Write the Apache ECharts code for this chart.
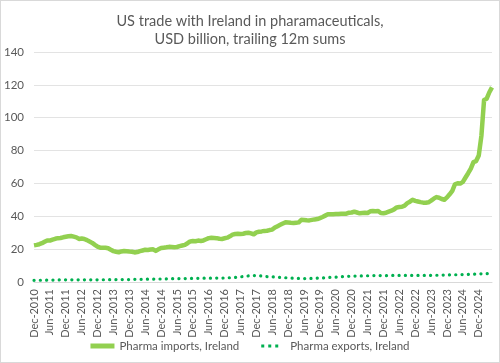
<!DOCTYPE html>
<html><head><meta charset="utf-8">
<script src="https://cdn.jsdelivr.net/npm/echarts@6/dist/echarts.min.js"></script>
<style>html,body{margin:0;padding:0;background:#fff}#c{width:498px;height:361px;border:1px solid #d9d9d9}</style>
</head><body><div id="c"></div>
<script>
var titleLines = ["US trade with Ireland in pharamaceuticals,", "USD billion, trailing 12m sums"];
var seriesNames = ["Pharma imports, Ireland", "Pharma exports, Ireland"];
var monthNames = ["Jan","Feb","Mar","Apr","May","Jun","Jul","Aug","Sep","Oct","Nov","Dec"];
var startYear = 2010, startMonth = 11; // Dec-2010
var imports = [
22.3,22.6,23.0,23.6,24.5,25.3,25.2,25.8,26.3,26.7,26.8,27.2,27.5,27.8,28.0,27.6,27.2,26.2,26.5,26.2,
25.5,24.6,23.8,22.6,21.5,20.9,20.8,20.8,20.5,19.6,18.8,18.4,18.1,18.6,18.9,18.7,18.5,18.4,18.0,18.2,
18.8,19.2,19.6,19.5,19.8,19.9,18.9,19.9,20.7,20.9,21.1,21.4,21.3,21.2,21.3,21.8,22.2,22.6,23.6,24.7,
24.9,24.8,25.2,25.0,25.3,26.0,26.7,26.9,26.8,26.7,26.3,26.2,26.6,27.0,27.8,28.8,29.2,29.3,29.2,29.4,
29.8,30.0,29.6,29.0,30.2,30.6,30.8,31.1,31.2,31.6,31.9,33.2,34.0,34.8,35.6,36.3,36.2,36.0,35.9,36.1,
36.3,37.9,37.8,37.6,37.5,37.8,38.1,38.3,38.9,39.6,40.4,41.2,41.3,41.3,41.4,41.4,41.5,41.6,41.6,42.2,
42.3,42.8,42.3,41.8,42.0,42.2,42.0,43.0,43.2,43.1,43.2,42.0,41.9,42.2,42.8,43.4,44.2,45.4,45.7,45.8,
46.5,48.0,48.9,50.1,49.4,49.0,48.6,48.3,48.2,48.5,49.5,50.7,51.7,51.3,50.5,50.1,51.5,53.4,55.5,59.5,
60.1,59.9,60.9,63.6,66.2,69.0,73.0,73.6,77.0,89.0,110.8,111.6,115.5,118.5
];
var exports = [
1.0,1.0,1.05,1.1,1.1,1.15,1.2,1.2,1.2,1.25,1.3,1.3,1.3,1.3,1.35,1.35,1.3,1.3,1.3,1.3,
1.3,1.3,1.3,1.3,1.3,1.35,1.35,1.4,1.4,1.4,1.4,1.45,1.45,1.5,1.5,1.5,1.5,1.55,1.6,1.6,
1.6,1.6,1.65,1.7,1.7,1.75,1.8,1.8,1.85,1.9,1.9,1.95,2.0,2.0,2.0,2.05,2.1,2.1,2.15,2.2,
2.2,2.2,2.25,2.3,2.3,2.3,2.3,2.3,2.35,2.4,2.4,2.4,2.45,2.5,2.6,2.7,2.8,2.9,3.1,3.3,
3.5,3.7,3.8,3.9,3.9,3.8,3.7,3.5,3.3,3.2,3.1,3.0,2.9,2.8,2.7,2.6,2.5,2.4,2.3,2.2,
2.2,2.1,2.1,2.1,2.2,2.2,2.3,2.4,2.5,2.5,2.6,2.7,2.8,2.9,3.0,3.1,3.2,3.3,3.4,3.5,
3.5,3.6,3.6,3.7,3.7,3.8,3.8,3.8,3.9,3.9,3.9,3.9,3.9,3.9,4.0,4.0,4.0,4.0,4.0,4.0,
4.0,4.0,4.0,4.0,4.0,4.0,4.0,4.0,4.0,4.0,4.1,4.1,4.1,4.1,4.2,4.2,4.2,4.3,4.3,4.4,
4.4,4.5,4.5,4.6,4.6,4.7,4.8,4.9,5.0,5.0,5.1,5.1,5.2,5.3
];
var categories = [];
for (var i = 0; i < imports.length; i++) {
  var m = (startMonth + i) % 12, y = startYear + Math.floor((startMonth + i) / 12);
  categories.push(monthNames[m] + "-" + y);
}
var yMin = 0, yMax = 140, yStep = 20;
var txt = "#595959", font = "Lato";
var chart = echarts.init(document.getElementById("c"), null, {renderer: "canvas"});
chart.setOption({
  animation: false,
  textStyle: {fontFamily: font},
  title: {
    text: titleLines.join("\n"), left: "center", top: 6,
    textStyle: {fontFamily: font, fontSize: 14.5, fontWeight: "normal", color: txt, lineHeight: 18}
  },
  grid: {left: 33, right: 7, top: 51, bottom: 80},
  legend: {
    bottom: 5, itemGap: 22, itemWidth: 24, itemHeight: 5, symbolKeepAspect: false,
    textStyle: {fontFamily: font, fontSize: 11.5, color: txt},
    data: [
      {name: seriesNames[0], icon: "path://M0,0h24v5h-24z"},
      {name: seriesNames[1], icon: "path://M0,1h3v3h-3z M7,1h3v3h-3z M14,1h3v3h-3z M24,0 L24,5"}
    ]
  },
  xAxis: {
    type: "category", data: categories, boundaryGap: false,
    axisLine: {lineStyle: {color: "#d9d9d9", width: 1}},
    axisTick: {show: false},
    axisLabel: {interval: 5, rotate: 90, margin: 7, fontFamily: font, fontSize: 11, color: txt}
  },
  yAxis: {
    type: "value", min: yMin, max: yMax, interval: yStep,
    axisLine: {show: false}, axisTick: {show: false},
    splitLine: {lineStyle: {color: "#e3e3e3", width: 1}},
    axisLabel: {margin: 10, fontFamily: font, fontSize: 11.5, color: txt}
  },
  series: [
    {name: seriesNames[0], type: "line", data: imports, symbol: "none",
     lineStyle: {color: "#92d050", width: 4.5, join: "round"}, itemStyle: {color: "#92d050"}},
    {name: seriesNames[1], type: "line", data: exports, symbol: "none",
     lineStyle: {color: "#00b050", width: 3.2, type: [0.1, 6.2], cap: "round"}, itemStyle: {color: "#00b050"}}
  ]
});
</script></body></html>
